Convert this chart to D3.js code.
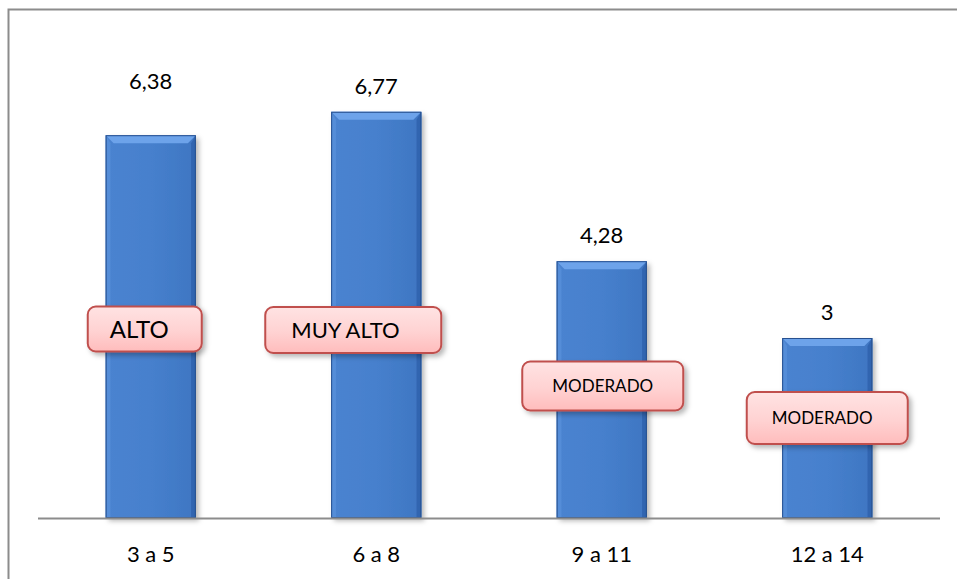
<!DOCTYPE html>
<html>
<head>
<meta charset="utf-8">
<script src="https://cdn.jsdelivr.net/npm/d3@7"></script>
<style>
  html, body { margin: 0; padding: 0; background: #fff; }
  svg { display: block; }
</style>
</head>
<body>
<svg id="chart" width="957" height="579"></svg>
<script>
// Age groups and their scores
const categories = ["3 a 5", "6 a 8", "9 a 11", "12 a 14"];
const values = [6.38, 6.77, 4.28, 3];
const valueLabels = ["6,38", "6,77", "4,28", "3"];
const levels = ["ALTO", "MUY ALTO", "MODERADO", "MODERADO"];

const svg = d3.select("#chart");
const W = 957, H = 579;
const plot = { left: 38, right: 940, top: 38, bottom: 518 };

const x = d3.scaleBand()
  .domain(categories)
  .range([plot.left, plot.right])
  .paddingInner(0.6)
  .paddingOuter(0.3);

const y = d3.scaleLinear()
  .domain([0, 8])
  .range([plot.bottom, plot.top]);

const FONT = "Lato, 'Open Sans', sans-serif";

const defs = svg.append("defs");

// bar face gradient
const face = defs.append("linearGradient").attr("id", "barFace")
  .attr("x1", 0).attr("x2", 1).attr("y1", 0).attr("y2", 0);
face.append("stop").attr("offset", "0%").attr("stop-color", "#4b83d0");
face.append("stop").attr("offset", "50%").attr("stop-color", "#4680cd");
face.append("stop").attr("offset", "100%").attr("stop-color", "#3f76c2");

// badge gradient
const pink = defs.append("linearGradient").attr("id", "badgeFill")
  .attr("x1", 0).attr("x2", 0).attr("y1", 0).attr("y2", 1);
pink.append("stop").attr("offset", "0%").attr("stop-color", "#ffe3e3");
pink.append("stop").attr("offset", "55%").attr("stop-color", "#ffd2d2");
pink.append("stop").attr("offset", "100%").attr("stop-color", "#ffbcbc");

// soft drop shadow
const sh = defs.append("filter").attr("id", "shadow")
  .attr("x", "-20%").attr("y", "-20%").attr("width", "150%").attr("height", "150%");
sh.append("feDropShadow").attr("dx", 3).attr("dy", 3).attr("stdDeviation", 2.5)
  .attr("flood-color", "#000").attr("flood-opacity", 0.28);

// outer frame
svg.append("rect")
  .attr("x", 8.5).attr("y", 9.5)
  .attr("width", 1000).attr("height", 700)
  .attr("fill", "none").attr("stroke", "#8c8c8c").attr("stroke-width", 2);

// bars
const bars = svg.append("g");
const B = 8; // bevel size
categories.forEach((c, i) => {
  const x0 = x(c), x1 = x(c) + x.bandwidth();
  const y0 = y(values[i]), y1 = y(0);
  const g = bars.append("g");
  g.append("rect")
    .attr("x", x0).attr("y", y0)
    .attr("width", x1 - x0).attr("height", y1 - y0)
    .attr("fill", "url(#barFace)")
    .attr("filter", "url(#shadow)");
  // top bevel
  g.append("polygon")
    .attr("points", [[x0, y0], [x1, y0], [x1 - B, y0 + B], [x0 + B, y0 + B]].join(" "))
    .attr("fill", "#6da3ea");
  // left bevel
  g.append("polygon")
    .attr("points", [[x0, y0], [x0 + B * 0.6, y0 + B], [x0 + B * 0.6, y1], [x0, y1]].join(" "))
    .attr("fill", "#5890da").attr("opacity", 0.8);
  // right bevel
  g.append("polygon")
    .attr("points", [[x1, y0], [x1 - B * 0.6, y0 + B], [x1 - B * 0.6, y1], [x1, y1]].join(" "))
    .attr("fill", "#2f62ad").attr("opacity", 0.85);
  g.append("rect")
    .attr("x", x0 + 0.5).attr("y", y0 + 0.5)
    .attr("width", x1 - x0 - 1).attr("height", y1 - y0 - 1)
    .attr("fill", "none").attr("stroke", "#27508f").attr("stroke-width", 1);
});

// baseline axis
svg.append("line")
  .attr("x1", plot.left).attr("x2", plot.right)
  .attr("y1", y(0) + 0.5).attr("y2", y(0) + 0.5)
  .attr("stroke", "#8c8c8c").attr("stroke-width", 2);

// category labels
svg.append("g").selectAll("text")
  .data(categories).join("text")
  .attr("x", d => x(d) + x.bandwidth() / 2)
  .attr("y", 562)
  .attr("text-anchor", "middle")
  .attr("font-family", FONT).attr("font-size", 22)
  .attr("fill", "#000")
  .text(d => d);

// value labels above bars
const labelLift = [54, 26, 26, 26];
svg.append("g").selectAll("text")
  .data(values).join("text")
  .attr("x", (d, i) => x(categories[i]) + x.bandwidth() / 2)
  .attr("y", (d, i) => y(d) - labelLift[i] + 8)
  .attr("text-anchor", "middle")
  .attr("font-family", FONT).attr("font-size", 22)
  .attr("fill", "#000")
  .text((d, i) => valueLabels[i]);

// level badges: offset from bar centre, centre y, size, font size
const badgeLayout = [
  { dx: -6,  cy: 329, w: 114, h: 45, fs: 24, tx: 22 },
  { dx: -23, cy: 330, w: 176, h: 46, fs: 22, tx: 26 },
  { dx: 1,   cy: 386, w: 161, h: 49, fs: 17, tx: null },
  { dx: 0,   cy: 418, w: 161, h: 52, fs: 17, tx: 25 }
];
const badges = svg.append("g");
levels.forEach((lv, i) => {
  const L = badgeLayout[i];
  const cx = x(categories[i]) + x.bandwidth() / 2 + L.dx;
  const bx = cx - L.w / 2, by = L.cy - L.h / 2;
  badges.append("rect")
    .attr("x", bx).attr("y", by)
    .attr("width", L.w).attr("height", L.h)
    .attr("rx", 8).attr("ry", 8)
    .attr("fill", "url(#badgeFill)")
    .attr("stroke", "#c0504d").attr("stroke-width", 2)
    .attr("filter", "url(#shadow)");
  badges.append("text")
    .attr("x", L.tx === null ? cx : bx + L.tx)
    .attr("y", L.cy + L.fs * 0.36)
    .attr("text-anchor", L.tx === null ? "middle" : "start")
    .attr("font-family", FONT).attr("font-size", L.fs)
    .attr("fill", "#000")
    .text(lv);
});
</script>
</body>
</html>
